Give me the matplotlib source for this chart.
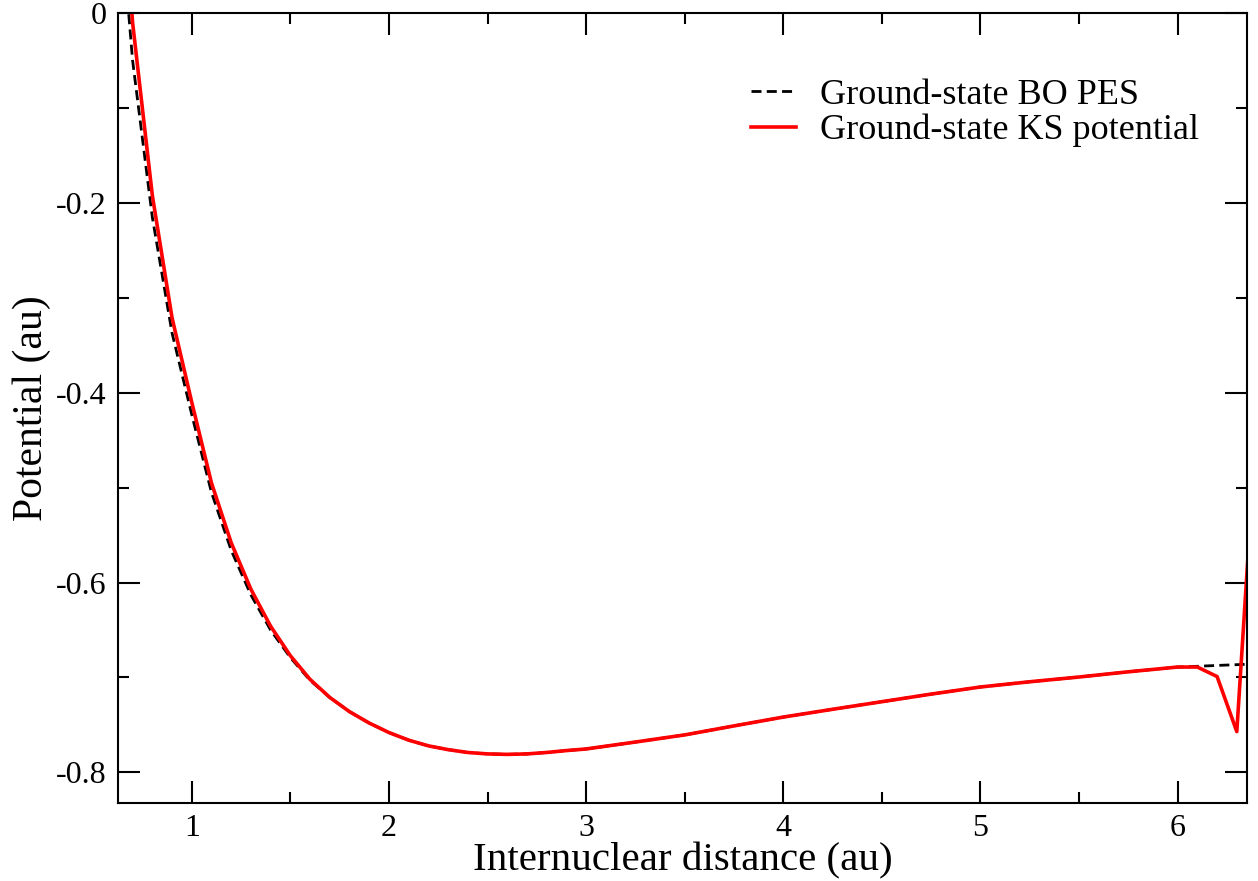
import numpy as np
import matplotlib
matplotlib.use("Agg")
import matplotlib.pyplot as plt

# internuclear distance grid (au)
r = [0.6, 0.7, 0.8, 0.9, 1.0, 1.1, 1.2, 1.3, 1.4, 1.5,
     1.6, 1.7, 1.8, 1.9, 2.0, 2.1, 2.2, 2.3, 2.4, 2.5,
     2.6, 2.7, 2.8, 2.9, 3.0, 3.25, 3.5, 3.75, 4.0, 4.25,
     4.5, 4.75, 5.0, 5.25, 5.5, 5.75, 6.0, 6.1, 6.2, 6.3, 6.4]

# ground-state Born-Oppenheimer PES
bo_pes = [0.20, -0.05, -0.215, -0.337, -0.423, -0.505, -0.566, -0.613, -0.650, -0.679,
          -0.703, -0.721, -0.736, -0.748, -0.758, -0.766, -0.772, -0.776, -0.779, -0.7805,
          -0.781, -0.7805, -0.779, -0.777, -0.7753, -0.768, -0.7605, -0.751, -0.7417, -0.7335,
          -0.7255, -0.7175, -0.710, -0.7045, -0.6995, -0.694, -0.689, -0.6882, -0.6873, -0.6865, -0.6856]

# ground-state Kohn-Sham potential
ks_pot = [0.28, -0.01, -0.192, -0.321, -0.410, -0.495, -0.558, -0.607, -0.646, -0.677,
          -0.702, -0.721, -0.736, -0.748, -0.758, -0.766, -0.772, -0.776, -0.779, -0.7805,
          -0.781, -0.7805, -0.779, -0.777, -0.7753, -0.768, -0.7605, -0.751, -0.7417, -0.7335,
          -0.7255, -0.7175, -0.710, -0.7045, -0.6995, -0.694, -0.689, -0.689, -0.699, -0.757, -0.432]

plt.rcParams['font.family'] = ['Liberation Serif', 'DejaVu Serif']

fig = plt.figure(figsize=(12.58, 8.81), dpi=100)
ax = fig.add_axes([0.0938, 0.0891, 0.8975, 0.8961])

ax.plot(r, bo_pes, color='black', lw=2.0, ls=(0, (3.6, 1.9)), label='Ground-state BO PES')
ax.plot(r, ks_pot, color='red', lw=2.6, label='Ground-state KS potential')

ax.set_xlim(0.626, 6.352)
ax.set_ylim(-0.8317, 0.0)
ax.set_xticks([1, 2, 3, 4, 5, 6])
ax.set_xticks(np.arange(1.5, 6.5, 1.0), minor=True)
ax.set_yticks([-0.8, -0.6, -0.4, -0.2, 0])
ax.set_yticklabels(['-0.8', '-0.6', '-0.4', '-0.2', '0'])
ax.set_yticks([-0.7, -0.5, -0.3, -0.1], minor=True)

ax.tick_params(which='both', direction='in', top=True, right=True, width=1.5, labelsize=23)
ax.tick_params(which='major', length=16, pad=8)
ax.tick_params(which='minor', length=8)
for s in ax.spines.values():
    s.set_linewidth(1.5)

ax.set_xlabel('Internuclear distance (au)', fontsize=29.5, labelpad=0)
ax.set_ylabel('Potential (au)', fontsize=30, labelpad=4)

ax.legend(loc='upper right', bbox_to_anchor=(0.97, 0.935), frameon=False, fontsize=26,
          handlelength=1.25, handletextpad=0.65, labelspacing=0.05, borderaxespad=0)

fig.savefig('out.png', dpi=100)
